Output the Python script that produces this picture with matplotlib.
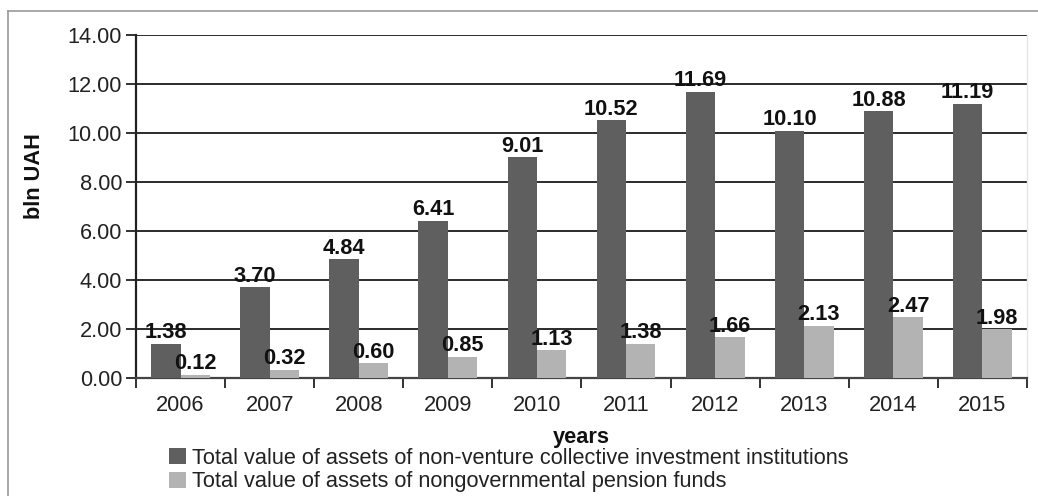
import numpy as np
from matplotlib import pyplot as plt
from matplotlib.lines import Line2D

plt.rcParams['font.family'] = ['Liberation Sans', 'DejaVu Sans']

years = ["2006", "2007", "2008", "2009", "2010",
         "2011", "2012", "2013", "2014", "2015"]
ici_assets = [1.38, 3.70, 4.84, 6.41, 9.01, 10.52, 11.69, 10.10, 10.88, 11.19]
npf_assets = [0.12, 0.32, 0.60, 0.85, 1.13, 1.38, 1.66, 2.13, 2.47, 1.98]
ici_name = "Total value of assets of non-venture collective investment institutions"
npf_name = "Total value of assets of nongovernmental pension funds"

dark = "#5f5f5f"
light = "#b3b3b3"
fs = 15.7

fig = plt.figure(figsize=(10.38, 4.96), dpi=100)
ax = fig.add_axes([0.131, 0.2379, 0.8584, 0.6915])

x = np.arange(len(years))
w = 0.33
b1 = ax.bar(x - w / 2, ici_assets, w, color=dark, label=ici_name, zorder=3)
b2 = ax.bar(x + w / 2, npf_assets, w, color=light, label=npf_name, zorder=3)

for bars in (b1, b2):
    for r in bars:
        h = r.get_height()
        ax.annotate("%.2f" % h, (r.get_x() + r.get_width() / 2, h),
                    xytext=(0, 0.5), textcoords="offset points",
                    ha="center", va="bottom", fontsize=fs,
                    fontweight="bold", color="#111111", zorder=4)

ax.set_xlim(-0.5, len(years) - 0.5)
ax.set_ylim(0, 14)
ax.set_yticks(np.arange(0, 14.1, 2))
ax.set_yticklabels(["%.2f" % v for v in np.arange(0, 14.1, 2)])
ax.yaxis.grid(True, color="#1a1a1a", linewidth=1.3, zorder=1)
ax.set_axisbelow(True)

# group boundary ticks on x axis, labels centered in groups
ax.set_xticks(np.arange(-0.5, len(years)), minor=False)
ax.set_xticklabels([])
ax.set_xticks(x, minor=True)
ax.set_xticklabels(years, minor=True)
ax.tick_params(axis="x", which="major", direction="out", length=7.5,
               width=1.3, color="#222222")
ax.tick_params(axis="x", which="minor", length=0, pad=12,
               labelsize=fs, labelcolor="#222222")
ax.tick_params(axis="y", direction="out", length=7, width=1.3,
               color="#222222", pad=3, labelsize=fs, labelcolor="#222222")

ax.spines["left"].set_color("#222222")
ax.spines["left"].set_linewidth(1.6)
ax.spines["bottom"].set_color("#444444")
ax.spines["bottom"].set_linewidth(1.6)
ax.spines["top"].set_visible(False)
ax.spines["right"].set_color("#e6e6e6")
ax.spines["right"].set_linewidth(1.0)

fig.text(35 / 1038, 1 - 176.5 / 496, "bln UAH", rotation=90, ha="center",
         va="center", fontsize=fs, fontweight="bold", color="#111111")
fig.text(581 / 1038, 1 - 438 / 496, "years", ha="center", va="center",
         fontsize=fs, fontweight="bold", color="#111111")

fig.legend(handles=[b1, b2], loc="upper left",
           bbox_to_anchor=(169 / 1038, 1 - 448 / 496), frameon=False,
           borderpad=0, borderaxespad=0, handlelength=0.78,
           handleheight=0.75, handletextpad=0.28, labelspacing=0.1,
           fontsize=fs, labelcolor="#222222")

# outer frame
fig.add_artist(Line2D([8 / 1038, 8 / 1038], [0, 1 - 11 / 496],
                      transform=fig.transFigure, color="#999999", lw=1.2))
fig.add_artist(Line2D([8 / 1038, 1], [1 - 11 / 496, 1 - 11 / 496],
                      transform=fig.transFigure, color="#999999", lw=1.2))

fig.savefig("out.png", dpi=100)
